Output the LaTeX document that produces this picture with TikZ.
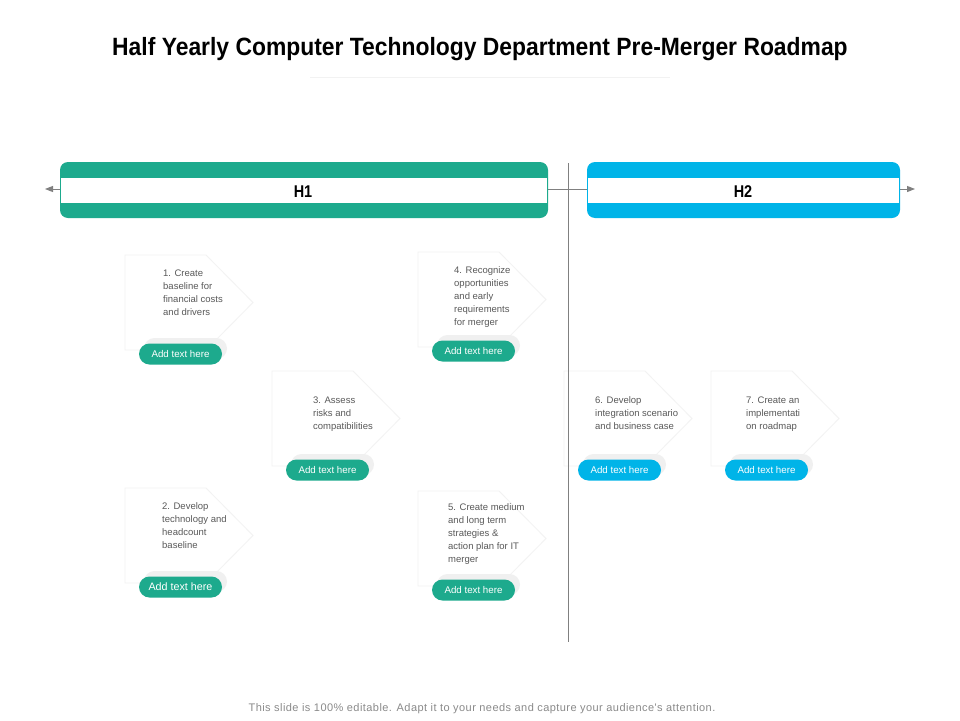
\documentclass[tikz,border=0pt]{standalone}
\usepackage{fontspec}
\setmainfont{Liberation Sans}
\newfontfamily\titlefont[FakeStretch=0.915]{Liberation Sans}
\newfontfamily\hfont[FakeStretch=0.85]{Liberation Sans}
\newfontfamily\footfont[LetterSpace=4]{Liberation Sans}
\usetikzlibrary{arrows.meta}
\definecolor{tgreen}{HTML}{1DAA8D}
\definecolor{tblue}{HTML}{00B4E8}
\definecolor{lgray}{HTML}{808080}
\definecolor{txtgray}{HTML}{595959}
\definecolor{footgray}{HTML}{8A8A8A}
\definecolor{cardline}{HTML}{F2F2F2}
\definecolor{shadowgray}{HTML}{F0F0F0}
\tikzset{
  cardtext/.style={font=\fontsize{9.5}{13}\selectfont, text=txtgray, align=left, anchor=north west, inner sep=0pt},
  pill/.style={minimum width=83pt, minimum height=21pt, rounded corners=10.5pt, inner sep=0pt, text=white},
  cardshape/.style={draw=cardline, fill=white, line width=0.8pt},
  pillshadow/.style={fill=shadowgray, rounded corners=10.5pt},
  barlabel/.style={font=\hfont\bfseries\fontsize{17}{17}\selectfont, anchor=base, inner sep=0pt},
  timeline/.style={draw=lgray, line width=1pt},
}
% #1 name, #2 left, #3 top, #4 text x, #5 text y, #6 colour, #7 pill font size, #8 text
\newcommand\rmcard[8]{%
  \draw[cardshape] (#2,#3) -- ++(81,0) -- ++(47,47.5) -- ++(-47,47.5) -- ++(-81,0) -- cycle;
  \node[cardtext] (#1t) at (#4,{#5-4.5}) {#8};
  \fill[pillshadow] ({#2+19},{#3+83}) rectangle ++(83,21);
  \node[pill, fill=#6, font=\fontsize{#7}{#7}\selectfont] (#1p) at ({#2+55.5},{#3+99}) {Add text here};
}
\begin{document}
\begin{tikzpicture}[x=1pt,y=-1pt]
\useasboundingbox (0,0) rectangle (960,720);
\fill[white] (0,0) rectangle (960,720);
% title
\node[font=\titlefont\bfseries\fontsize{25}{25}\selectfont, anchor=base, inner sep=0pt] (title) at (480,55) {Half Yearly Computer Technology Department Pre-Merger Roadmap};
\draw[draw=black!5, line width=0.6pt] (310,77) -- (670,77);
% timeline
\coordinate (tl) at (45,189);
\coordinate (tr) at (915,189);
\draw[timeline, {Triangle[length=8pt,width=6pt]}-{Triangle[length=8pt,width=6pt]}] (tl) -- (tr);
% H1 bar
\fill[tgreen, rounded corners=8pt] (60,162) rectangle (548,218);
\fill[white] (61,178) rectangle (547,203);
\node[barlabel] (h1) at (303,197) {H1};
% H2 bar
\fill[tblue, rounded corners=8pt] (587,162) rectangle (900,218);
\fill[white] (588,178) rectangle (899,203);
\node[barlabel] (h2) at (743,197) {H2};
% cards
\rmcard{c1}{125}{255}{163}{274}{tgreen}{9.75}{1. Create\\baseline for\\financial costs\\and drivers}
\rmcard{c4}{418}{252}{454}{271}{tgreen}{9.75}{4. Recognize\\opportunities\\and early\\requirements\\for merger}
\rmcard{c3}{272}{371}{313}{401}{tgreen}{9.75}{3. Assess\\risks and\\compatibilities}
\rmcard{c2}{125}{488}{162}{507}{tgreen}{10.75}{2. Develop\\technology and\\headcount\\baseline}
\rmcard{c5}{418}{491}{448}{508}{tgreen}{9.75}{5. Create medium\\and long term\\strategies \&\\action plan for IT\\merger}
\rmcard{c6}{564}{371}{595}{401}{tblue}{9.75}{6. Develop\\integration scenario\\and business case}
\rmcard{c7}{711}{371}{746}{401}{tblue}{9.75}{7. Create an\\implementati\\on roadmap}
% vertical divider
\coordinate (vt) at (568,163);
\coordinate (vb) at (568,642);
\draw[timeline] (vt) -- (vb);
% footer
\node[font=\footfont\fontsize{11}{11}\selectfont, text=footgray, anchor=base, inner sep=0pt] (foot) at (482,711) {This slide is 100\% editable. Adapt it to your needs and capture your audience's attention.};
\end{tikzpicture}
\end{document}
